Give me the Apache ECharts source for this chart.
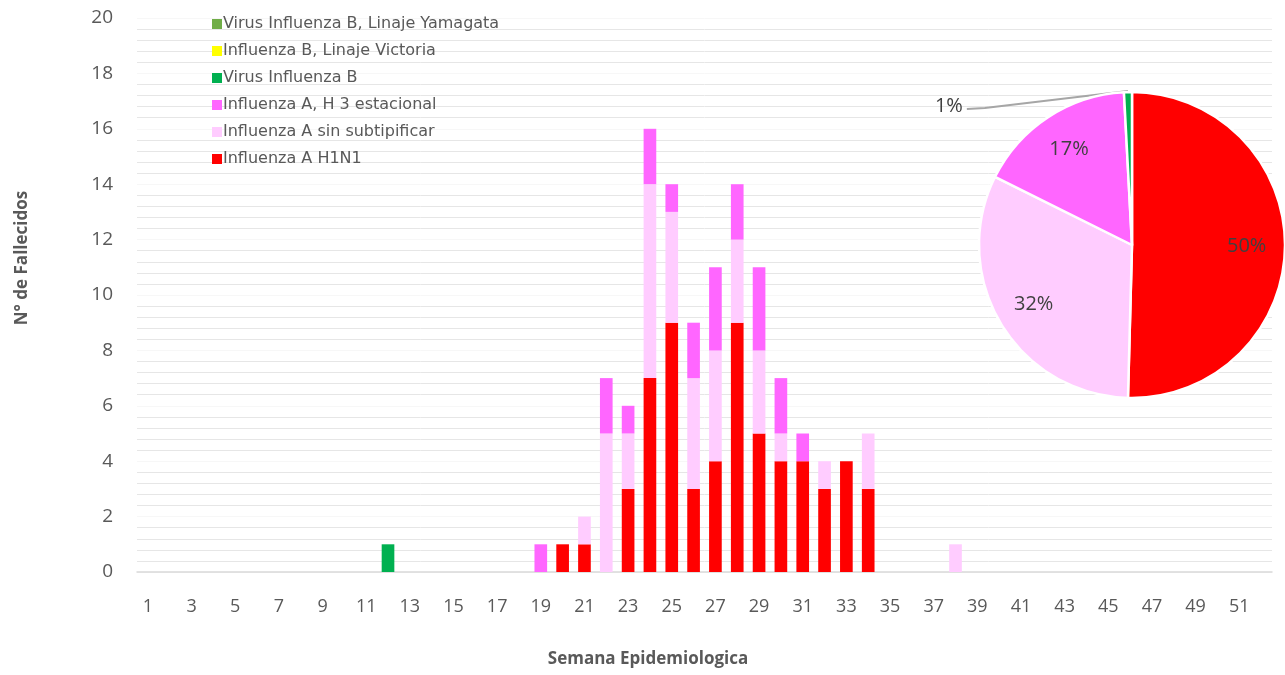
<!DOCTYPE html>
<html>
<head>
<meta charset="utf-8">
<script src="https://cdn.jsdelivr.net/npm/echarts@6/dist/echarts.min.js"></script>
<style>
  html, body { margin: 0; padding: 0; background: #fff; }
  #chart { width: 1285px; height: 675px; }
</style>
</head>
<body>
<div id="chart"></div>
<script>
// semanas epidemiologicas
const weeks = ['1','2','3','4','5','6','7','8','9','10','11','12','13','14','15','16','17','18','19','20',
  '21','22','23','24','25','26','27','28','29','30','31','32','33','34','35','36','37','38','39','40',
  '41','42','43','44','45','46','47','48','49','50','51','52']

const h1n1 = [0,0,0,0,0,0,0,0,0,0, 0,0,0,0,0,0,0,0,0,1, 1,0,3,7,9,3,4,9,5,4, 4,3,4,3,0,0,0,0,0,0, 0,0,0,0,0,0,0,0,0,0, 0,0]
const sinSubtipificar = [0,0,0,0,0,0,0,0,0,0, 0,0,0,0,0,0,0,0,0,0, 1,5,2,7,4,4,4,3,3,1, 0,1,0,2,0,0,0,1,0,0, 0,0,0,0,0,0,0,0,0,0, 0,0]
const h3Estacional = [0,0,0,0,0,0,0,0,0,0, 0,0,0,0,0,0,0,0,1,0, 0,2,1,2,1,2,3,2,3,2, 1,0,0,0,0,0,0,0,0,0, 0,0,0,0,0,0,0,0,0,0, 0,0]
const virusB = [0,0,0,0,0,0,0,0,0,0, 0,1,0,0,0,0,0,0,0,0, 0,0,0,0,0,0,0,0,0,0, 0,0,0,0,0,0,0,0,0,0, 0,0,0,0,0,0,0,0,0,0, 0,0]
const victoria = [0,0,0,0,0,0,0,0,0,0, 0,0,0,0,0,0,0,0,0,0, 0,0,0,0,0,0,0,0,0,0, 0,0,0,0,0,0,0,0,0,0, 0,0,0,0,0,0,0,0,0,0, 0,0]
const yamagata = [0,0,0,0,0,0,0,0,0,0, 0,0,0,0,0,0,0,0,0,0, 0,0,0,0,0,0,0,0,0,0, 0,0,0,0,0,0,0,0,0,0, 0,0,0,0,0,0,0,0,0,0, 0,0]

const yTicks = [0, 2, 4, 6, 8, 10, 12, 14, 16, 18, 20]

// stack order bottom -> top
const grupos = [
  { name: 'Influenza A H1N1', data: h1n1, color: '#ff0000' },
  { name: 'Influenza A sin subtipificar', data: sinSubtipificar, color: '#ffccff' },
  { name: 'Influenza A, H 3 estacional', data: h3Estacional, color: '#ff66ff' },
  { name: 'Virus Influenza B', data: virusB, color: '#00b050' },
  { name: 'Influenza B, Linaje Victoria', data: victoria, color: '#ffff00' },
  { name: 'Virus Influenza B, Linaje Yamagata', data: yamagata, color: '#70ad47' }
]

const gris = '#595959'
const fuente = '"Open Sans", "Noto Sans", sans-serif'
const pct = p => Math.round(p.percent) + '%'

let myChart = echarts.init(document.getElementById('chart'))

const barSeries = grupos.map(g => ({
  name: g.name,
  type: 'bar',
  stack: 'total',
  barCategoryGap: '42%',
  itemStyle: { color: g.color },
  data: g.data
}))

// totales para la torta (solo los que tienen casos)
const pieData = grupos
  .map(g => ({ name: g.name, value: g.data.reduce((a, b) => a + b, 0), itemStyle: { color: g.color } }))
  .filter(d => d.value > 0)
const pieTotal = pieData.reduce((a, b) => a + b.value, 0)

const pieCenter = [1132, 245]
const pieR = 153

// punto del borde de la torta en el medio de un sector (sentido horario desde arriba)
const bordeSector = idx => {
  let acum = 0
  for (let i = 0; i < idx; i++) acum += pieData[i].value
  const frac = (acum + pieData[idx].value / 2) / pieTotal
  const ang = frac * 2 * Math.PI
  return [pieCenter[0] + pieR * Math.sin(ang), pieCenter[1] - pieR * Math.cos(ang)]
}

const option = {
  animation: false,
  textStyle: { fontFamily: fuente },
  grid: { left: 137, right: 13, top: 18, bottom: 103 },
  legend: {
    orient: 'vertical',
    left: 207,
    top: 11,
    itemWidth: 10,
    itemHeight: 10,
    itemGap: 11,
    icon: 'rect',
    textStyle: { color: gris, fontSize: 16, fontFamily: '"DejaVu Sans", sans-serif', padding: [0, 0, 0, -4] },
    data: grupos.map(g => g.name).reverse()
  },
  xAxis: {
    type: 'category',
    data: weeks,
    axisLine: { lineStyle: { color: '#d9d9d9', width: 1.5 } },
    axisTick: { show: false },
    axisLabel: { color: gris, fontSize: 18, interval: 1, margin: 26 }
  },
  yAxis: {
    type: 'value',
    min: yTicks[0],
    max: yTicks[yTicks.length - 1],
    interval: 2,
    axisLine: { show: false },
    axisTick: { show: false },
    axisLabel: { color: gris, fontSize: 19, margin: 24 },
    splitLine: { show: true, lineStyle: { color: '#f7f7f7' } },
    minorTick: { show: false, splitNumber: 5 },
    minorSplitLine: { show: true, lineStyle: { color: '#e6e6e6' } }
  },
  graphic: [
    {
      type: 'text', x: 22, y: 258, rotation: Math.PI / 2,
      style: { text: 'N° de Fallecidos', fill: gris, font: 'bold 17px ' + fuente, align: 'center', verticalAlign: 'middle' }
    },
    {
      type: 'text', x: 648, y: 659,
      style: { text: 'Semana Epidemiologica', fill: gris, font: 'bold 17px ' + fuente, align: 'center', verticalAlign: 'middle' }
    }
  ],
  series: [
    ...barSeries,
    {
      type: 'pie',
      center: pieCenter,
      radius: pieR,
      startAngle: 90,
      itemStyle: { borderColor: '#fff', borderWidth: 2.5 },
      label: { show: false },
      labelLine: { show: false },
      data: pieData.map(d => d.value / pieTotal < 0.05
        ? Object.assign({}, d, {
            label: { show: true, position: 'outside', formatter: pct, color: '#404040', fontSize: 20, fontFamily: fuente },
            labelLine: { show: true, length: 4, length2: 160, maxSurfaceAngle: 180, lineStyle: { color: '#a6a6a6', width: 2 } }
          })
        : d),
      labelLayout: function (params) {
        if (!params.labelLinePoints) return
        const p0 = bordeSector(params.dataIndex)
        const r = params.labelRect
        const dy = 18
        const yMid = r.y + r.height / 2 + dy + 3
        return {
          dy: dy,
          labelLinePoints: [[p0[0], p0[1] - 1], [r.x + r.width + 22, yMid - 1], [r.x + r.width + 4, yMid]]
        }
      }
    },
    {
      // capa transparente para ubicar las etiquetas interiores
      type: 'pie',
      silent: true,
      center: pieCenter,
      radius: pieR * 1.46,
      startAngle: 90,
      itemStyle: { color: 'rgba(0,0,0,0)' },
      label: { show: true, position: 'inside', formatter: pct, color: '#404040', fontSize: 20, fontFamily: fuente },
      labelLine: { show: false },
      data: pieData.map(d => ({ name: d.name, value: d.value, label: { show: d.value / pieTotal >= 0.05 } }))
    }
  ]
}

myChart.setOption(option)

window.addEventListener('resize', () => {
  myChart.resize()
})
</script>
</body>
</html>
